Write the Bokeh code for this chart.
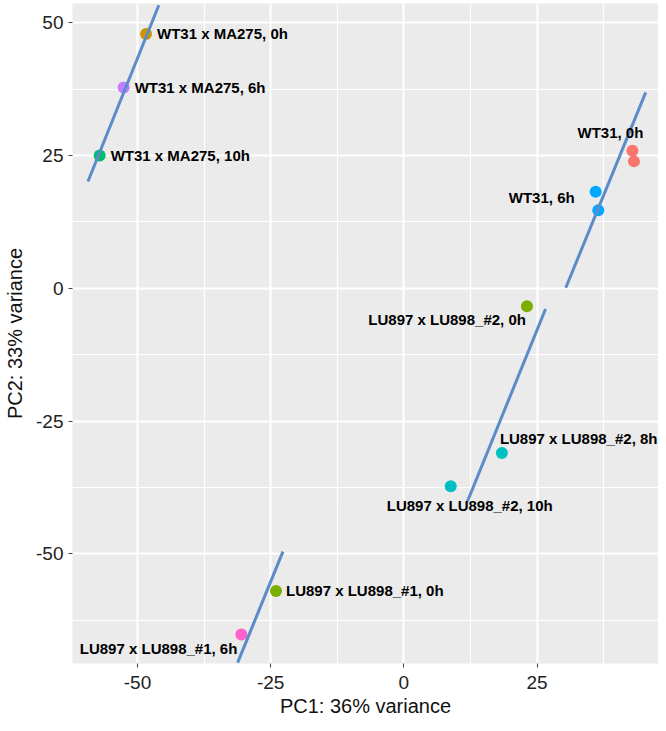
from bokeh.plotting import figure
from bokeh.models import ColumnDataSource, Range1d, FixedTicker
from bokeh.core.properties import value
from bokeh.embed import file_html
from bokeh.resources import INLINE

# ---- data ----
pc1 = [42.9, 43.2, 36.0, 36.5, -48.4, -52.6, -57.1, 23.1, 18.4, 8.8, -24.0, -30.5]
pc2 = [25.9, 23.9, 18.2, 14.7, 47.9, 37.8, 25.0, -3.4, -31.0, -37.3, -57.0, -65.2]
groups = ["WT31, 0h", "WT31, 0h", "WT31, 6h", "WT31, 6h",
          "WT31 x MA275, 0h", "WT31 x MA275, 6h", "WT31 x MA275, 10h",
          "LU897 x LU898_#2, 0h", "LU897 x LU898_#2, 8h", "LU897 x LU898_#2, 10h",
          "LU897 x LU898_#1, 0h", "LU897 x LU898_#1, 6h"]
colors = ["#F8766D", "#F8766D", "#00A9FF", "#00A9FF",
          "#CD9600", "#C77CFF", "#00BE67",
          "#7CAE00", "#00BFC4", "#00BFC4",
          "#7CAE00", "#FF61CC"]

# labels (one per group), anchored at a point
label_text = ["WT31, 0h", "WT31, 6h", "WT31 x MA275, 0h", "WT31 x MA275, 6h",
              "WT31 x MA275, 10h", "LU897 x LU898_#2, 0h", "LU897 x LU898_#2, 8h",
              "LU897 x LU898_#2, 10h", "LU897 x LU898_#1, 0h", "LU897 x LU898_#1, 6h"]
label_pt = [0, 2, 4, 5, 6, 7, 8, 9, 10, 11]
label_align = ["center", "right", "left", "left", "left", "right", "left", "center", "left", "right"]
label_dx = [-22, -21, 11, 11, 11, -1, -2, 19, 10, -4]
label_dy = [-18, 6, 0, 0, 0, 13, -14, 19, 0, 14]

# hand-drawn blue lines
line_x0 = [-59.3, 30.4, 11.95, -31.2]
line_y0 = [20.1, 0.1, -40.1, -70.5]
line_x1 = [-46.0, 45.4, 26.6, -22.7]
line_y1 = [53.3, 36.9, -3.9, -49.6]

ticks = [-50, -25, 0, 25, 50]
tick_labels = ["-50", "-25", "0", "25", "50"]
minor = [-62.5, -37.5, -12.5, 12.5, 37.5]

# ---- figure ----
p = figure(width=658, height=723, output_backend="svg", toolbar_location=None,
           x_range=Range1d(-62.2, 47.8), y_range=Range1d(-70.66, 53.63),
           min_border_left=72, min_border_right=0, min_border_top=3, min_border_bottom=60)
p.background_fill_color = "#EBEBEB"
p.border_fill_color = "white"
p.outline_line_color = None

for ax in (p.xaxis[0], p.yaxis[0]):
    ax.ticker = FixedTicker(ticks=ticks, minor_ticks=minor)
    ax.major_label_overrides = dict(zip(ticks, tick_labels))
    ax.axis_line_color = None
    ax.major_tick_line_color = "#444444"
    ax.major_tick_out = 4
    ax.major_tick_in = 0
    ax.minor_tick_line_color = None
    ax.major_label_text_font = "Liberation Sans"
    ax.major_label_text_font_size = "19px"
    ax.major_label_text_color = "#222222"
    ax.axis_label_text_font = "Liberation Sans"
    ax.axis_label_text_font_size = "20px"
    ax.axis_label_text_font_style = "normal"
    ax.axis_label_text_color = "#111111"

p.xaxis.axis_label = "PC1: 36% variance"
p.yaxis.axis_label = "PC2: 33% variance"
p.xaxis.major_label_standoff = 8
p.xaxis.axis_label_standoff = 3
p.yaxis.major_label_standoff = 5
p.yaxis.axis_label_standoff = 7

for g in (p.xgrid[0], p.ygrid[0]):
    g.ticker = FixedTicker(ticks=ticks, minor_ticks=minor)
    g.grid_line_color = "white"
    g.grid_line_width = 2
    g.minor_grid_line_color = "white"
    g.minor_grid_line_width = 1.2

src = ColumnDataSource(dict(x=pc1, y=pc2, c=colors, g=groups))
p.scatter("x", "y", source=src, size=12, color="c", line_color=None)

p.segment(x0=line_x0, y0=line_y0, x1=line_x1, y1=line_y1,
          line_color="#5B8BC9", line_width=3)

lsrc = ColumnDataSource(dict(
    x=[pc1[i] for i in label_pt], y=[pc2[i] for i in label_pt],
    t=label_text, a=label_align, dx=label_dx, dy=label_dy))
p.text("x", "y", text="t", source=lsrc, text_align="a", x_offset="dx", y_offset="dy",
       text_baseline="middle", text_font=value("Liberation Sans"),
       text_font_style="bold", text_font_size="15px", text_color="black")

open("out.html", "w").write(file_html(p, INLINE))
